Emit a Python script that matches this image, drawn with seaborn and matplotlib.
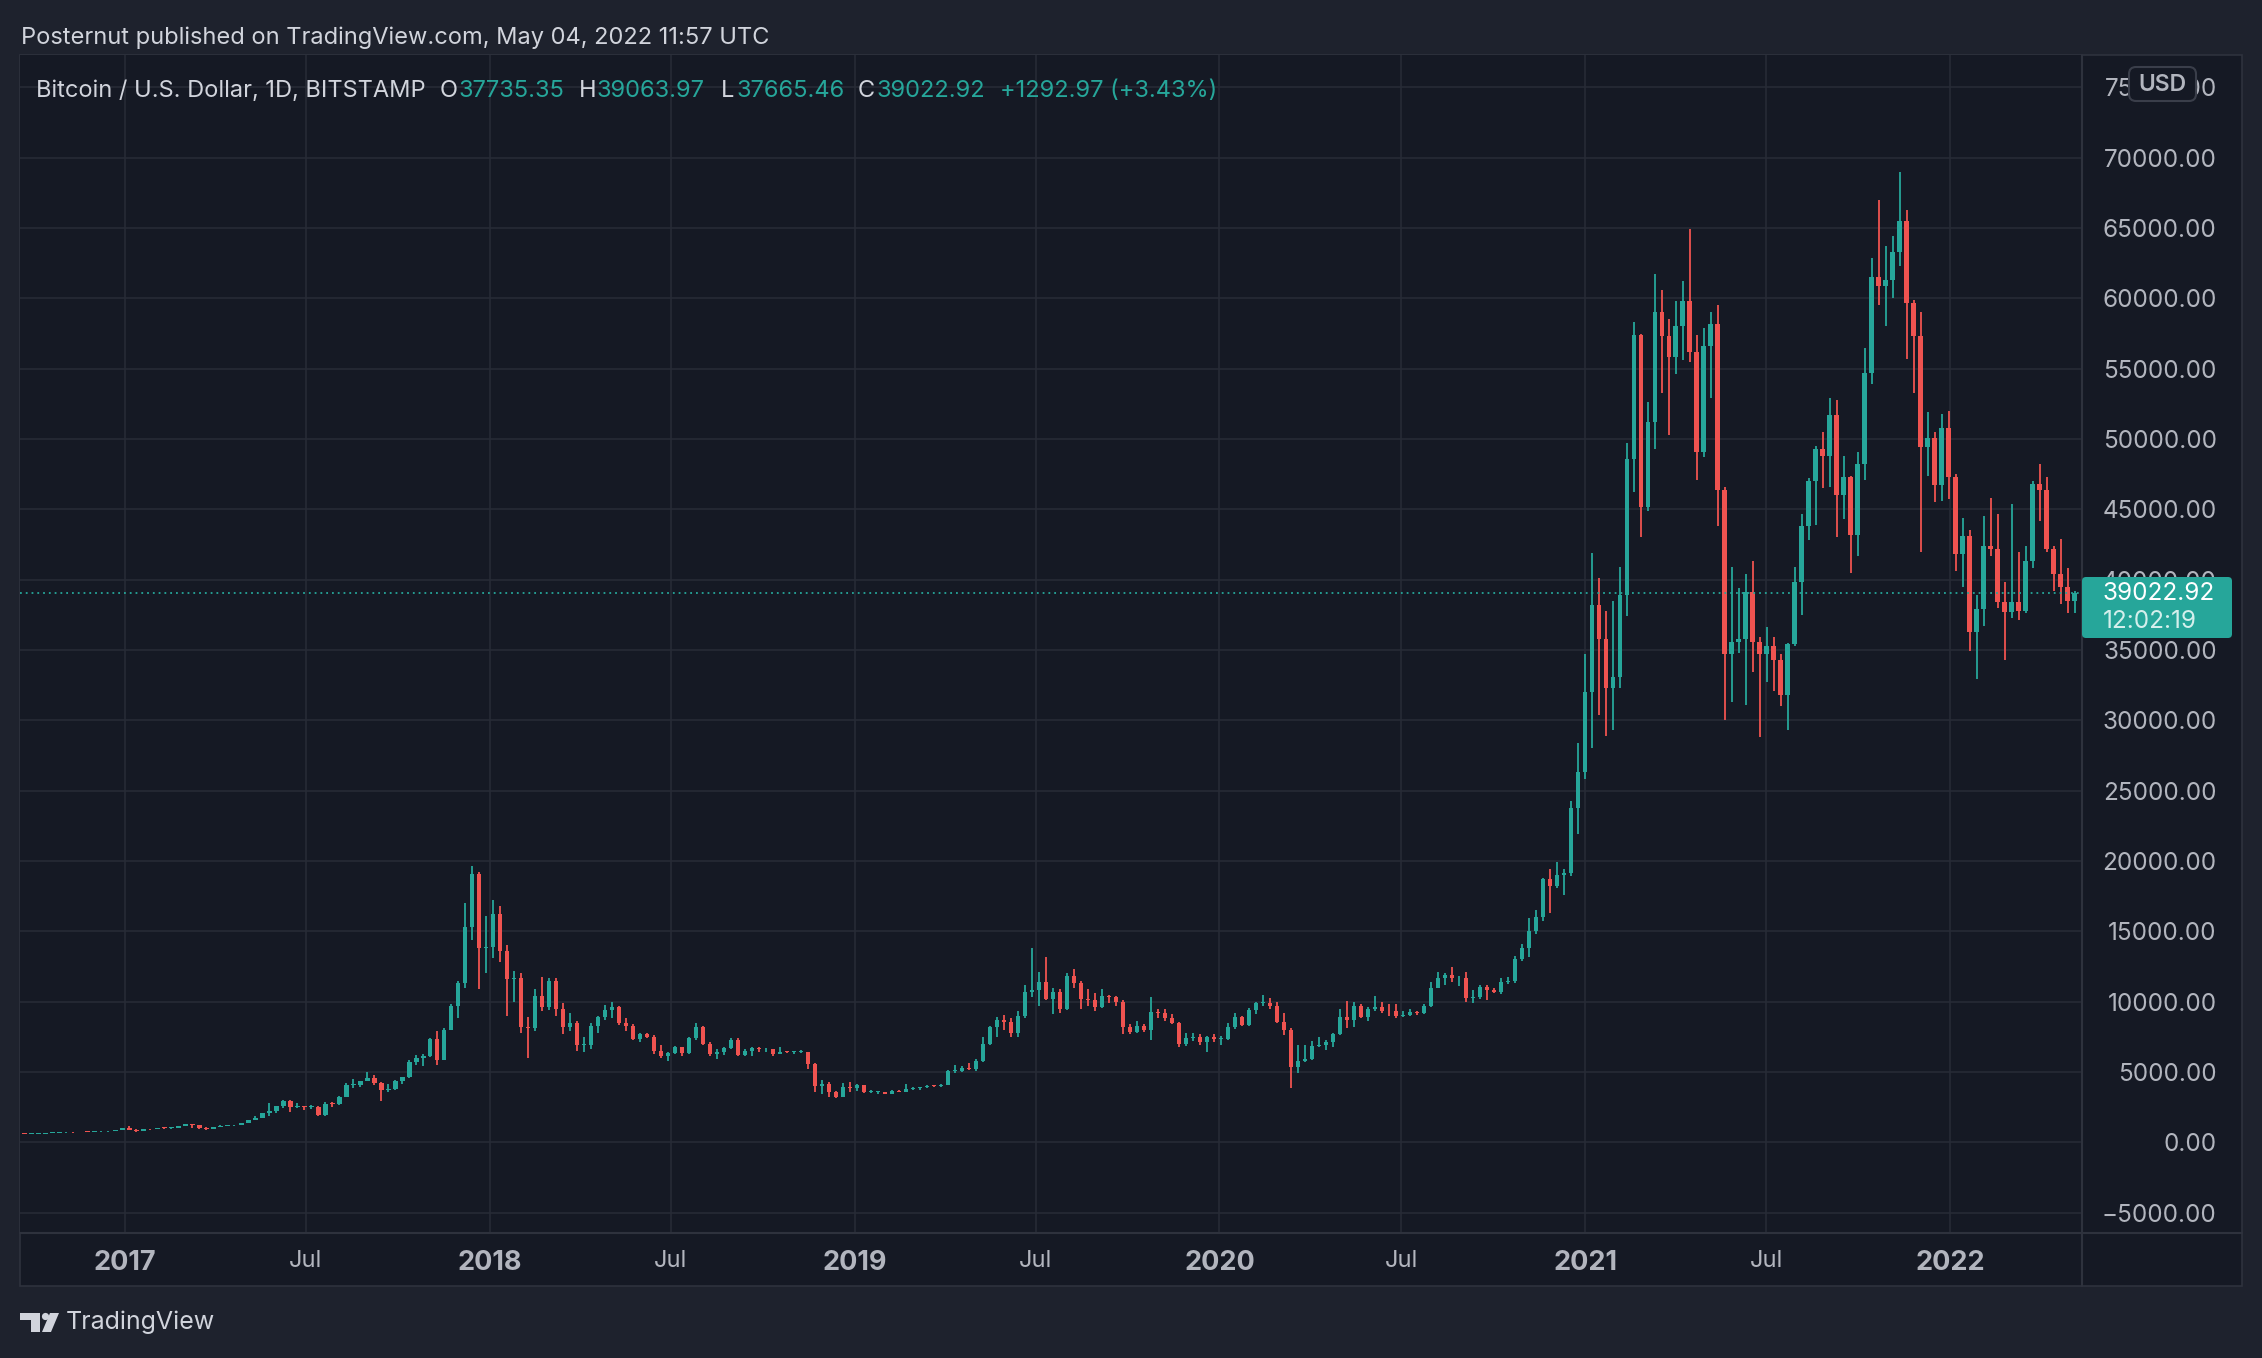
import numpy as np
import pandas as pd
import seaborn as sns
import matplotlib.pyplot as plt
import matplotlib.dates as mdates
from matplotlib.patches import FancyBboxPatch, Rectangle, Polygon, Circle
from matplotlib.lines import Line2D
from matplotlib.transforms import Affine2D

# weekly BTC/USD candles (Bitstamp), weeks start on Monday 2016-09-19
first_open = 608

close_2016 = [603, 611, 619, 638, 653, 698, 703, 702, 748, 730, 767, 769, 790, 895, 998]
high_2016 = [612, 612, 622, 641, 656, 714, 740, 712, 754, 752, 770, 781, 795, 898, 1000]
low_2016 = [592, 596, 606, 616, 633, 650, 680, 680, 697, 724, 726, 756, 760, 790, 889]

close_2017 = [905, 820, 920, 915, 1018, 995, 1050, 1175, 1270, 1235, 1020, 965, 1085,
              1190, 1195, 1250, 1350, 1560, 1750, 2050, 2190, 2550, 2950, 2520, 2560, 2500,
              2510, 1960, 2750, 2740, 3240, 4050, 4080, 4350, 4600, 4200, 3700, 3780, 4390,
              4610, 5690, 6010, 6140, 7360, 5860, 8000, 9720, 11300, 15300, 19100, 13800, 13880]
high_2017 = [1150, 910, 925, 930, 1020, 1060, 1050, 1190, 1290, 1330, 1250, 1080, 1090,
             1200, 1220, 1255, 1350, 1580, 1850, 2100, 2760, 2560, 3000, 2980, 2780, 2600,
             2650, 2550, 2860, 2850, 3300, 4200, 4480, 4380, 4980, 4750, 4300, 4150, 4400,
             4620, 5840, 6200, 6300, 7400, 7900, 8100, 9800, 11500, 17000, 19660, 19200, 16100]
low_2017 = [885, 750, 800, 880, 910, 940, 970, 1050, 1160, 1000, 940, 880, 930,
            1080, 1150, 1160, 1230, 1340, 1550, 1710, 1900, 2100, 2440, 2150, 2430, 2330,
            2380, 1840, 1900, 2480, 2670, 3200, 3890, 3900, 4340, 4100, 2950, 3550, 3750,
            4150, 4560, 5500, 5450, 6030, 5500, 5850, 8000, 8800, 11000, 14400, 10900, 12000]

close_2018 = [16200, 13600, 11600, 11700, 8200, 8100, 10400, 9600, 11500, 9500, 8200, 8500,
              6900, 6900, 8300, 8900, 9400, 9650, 8500, 8250, 7350, 7700, 7500, 6500, 6150,
              6350, 6750, 6350, 7400, 8200, 7000, 6300, 6400, 6700, 7300, 6200, 6500, 6700,
              6600, 6600, 6300, 6450, 6400, 6400, 6400, 5600, 4000, 4150, 3600, 3250, 3950, 3850]
high_2018 = [17250, 16800, 14000, 12200, 12000, 8900, 10900, 11780, 11700, 11700, 9900, 9200,
             8600, 7500, 8450, 9000, 9750, 9950, 9700, 8850, 8400, 7750, 7750, 7650, 6900,
             6400, 6850, 6800, 7500, 8500, 8250, 7150, 6600, 6800, 7400, 7400, 6600, 6800,
             6750, 6700, 6650, 6750, 6500, 6450, 6550, 6450, 5650, 4400, 4250, 3650, 4200, 4250]
low_2018 = [13100, 12800, 9000, 10000, 7800, 6000, 7900, 9300, 9400, 9000, 7700, 7900,
            6500, 6450, 6600, 7800, 8700, 8800, 8350, 7900, 7250, 7100, 7400, 6300, 6000,
            5800, 6250, 6100, 6300, 7300, 6900, 6100, 5900, 6200, 6650, 6150, 6100, 6150,
            6400, 6450, 6150, 6250, 6350, 6300, 6350, 5200, 3600, 3450, 3250, 3150, 3200, 3550]

close_2019 = [4050, 3550, 3550, 3550, 3450, 3650, 3600, 3800, 3850, 3900, 4000, 3980, 4100,
              5050, 5100, 5300, 5200, 5800, 7000, 8200, 8700, 8550, 7800, 8950, 10700, 10800,
              11400, 10200, 10700, 9500, 11800, 11300, 10200, 10100, 9600, 10400, 10300, 10000,
              8200, 7850, 8300, 7950, 9250, 9200, 8800, 8500, 7000, 7400, 7500, 7100, 7500, 7350]
high_2019 = [4150, 4100, 3750, 3650, 3600, 3700, 3700, 4150, 3920, 3950, 4050, 4100, 4150,
             5150, 5470, 5450, 5650, 5900, 7500, 8300, 8900, 9050, 8850, 9300, 11200, 13800,
             12100, 13200, 11000, 10900, 12000, 12300, 11500, 10900, 10600, 10900, 10500, 10400,
             10100, 8400, 8650, 8400, 10350, 9500, 9450, 9100, 8550, 7800, 7800, 7700, 7550, 7700]
low_2019 = [3650, 3500, 3500, 3450, 3400, 3400, 3550, 3550, 3700, 3700, 3850, 3920, 3900,
            4050, 4900, 5000, 5150, 5050, 5700, 6900, 7450, 8000, 7450, 7500, 8850, 10300,
            9700, 10100, 9100, 9200, 9400, 11000, 9500, 9700, 9300, 9550, 9900, 9700,
            7700, 7700, 7750, 7850, 7300, 8850, 8600, 8400, 6800, 6850, 7200, 6900, 6450, 7100]

close_2020 = [7350, 8200, 8900, 8350, 9400, 9900, 9900, 9700, 8550, 8000, 5350, 5800, 5900,
              6850, 6900, 7100, 7700, 8900, 8700, 9700, 8900, 9450, 9650, 9350, 9300, 9000,
              9050, 9250, 9200, 9700, 11000, 11700, 11900, 11650, 11700, 10250, 10300, 11050,
              10800, 10650, 11400, 11500, 13050, 13800, 15000, 16000, 18700, 18200, 19000,
              19150, 23800, 26300, 32000]
high_2020 = [7550, 8450, 9200, 8950, 9550, 9950, 10500, 10250, 9950, 9200, 8150, 6950, 6950,
             7200, 7450, 7300, 7750, 9450, 10050, 9950, 9850, 9600, 10400, 10000, 9800, 9800,
             9300, 9450, 9350, 9800, 11400, 12100, 12050, 12450, 11800, 12100, 10800, 11200,
             11150, 10950, 11700, 11750, 13250, 14100, 15950, 16500, 18800, 19450, 19900,
             19400, 24250, 28400, 34700]
low_2020 = [6900, 7300, 8050, 8250, 8250, 9100, 9700, 9450, 8500, 7650, 3850, 4950, 5700,
            5850, 6750, 6550, 6800, 7600, 8100, 8200, 8800, 8650, 9300, 9200, 8950, 8850,
            8900, 9000, 9050, 9150, 9600, 10950, 11150, 11400, 11100, 10000, 9900, 10200,
            10150, 10600, 10550, 11250, 11350, 12900, 13200, 14800, 15700, 16300, 18100,
            17600, 18900, 21900, 25800]

close_2021 = [38200, 35800, 32300, 33100, 38900, 48600, 57400, 45200, 51200, 59000, 57300,
              55800, 58000, 59800, 56200, 49100, 56600, 58200, 46400, 34700, 35600, 35800,
              39100, 35600, 34700, 35300, 34300, 31800, 35400, 39800, 43800, 47000, 49300,
              48800, 51700, 46000, 47300, 43200, 48200, 54700, 61500, 60900, 61300, 63300,
              65500, 59700, 57300, 49400, 50100, 46700, 50800, 47300]
high_2021 = [41900, 40100, 37800, 38500, 40900, 49700, 58300, 57500, 52600, 61700, 60600,
             58500, 59800, 61200, 64900, 57400, 57900, 59000, 59500, 46600, 40900, 39400,
             40400, 41300, 35900, 36600, 35900, 34700, 35500, 40900, 44700, 47200, 49500,
             50500, 52900, 52800, 48800, 47400, 49100, 56500, 62900, 67000, 63700, 64400,
             69000, 66300, 59900, 59000, 51900, 50500, 51800, 52000]
low_2021 = [28000, 30400, 28850, 29300, 32300, 37400, 46200, 43000, 44900, 49300, 53300,
            50300, 54600, 55600, 55500, 47100, 48700, 52900, 43800, 30000, 31300, 34800,
            31100, 33400, 28800, 32700, 32100, 31000, 29300, 35300, 37500, 42800, 43900,
            46500, 46600, 43000, 44300, 40500, 41700, 47100, 53900, 59500, 58000, 60000,
            62300, 55700, 53300, 42000, 47400, 45500, 45600, 45700]

close_2022 = [41800, 43100, 36300, 37900, 42400, 42200, 38400, 37700, 38400, 37800, 41300,
              46800, 46400, 42200, 40400, 39500, 38470, 39023]
high_2022 = [47500, 44400, 43500, 38900, 44500, 45800, 44700, 39800, 45400, 42000, 42400,
             47000, 48200, 47300, 42400, 42900, 40800, 39170]
low_2022 = [40600, 39500, 34900, 32950, 36700, 41700, 38000, 34300, 37300, 37100, 37600,
            40800, 44200, 42000, 39200, 38300, 37600, 37600]

last_price = 39022.92
year_ticks = ["2017", "Jul", "2018", "Jul", "2019", "Jul", "2020", "Jul", "2021", "Jul", "2022"]
tick_dates = ["2017-01-01", "2017-07-01", "2018-01-01", "2018-07-01", "2019-01-01", "2019-07-01",
              "2020-01-01", "2020-07-01", "2021-01-01", "2021-07-01", "2022-01-01"]
price_ticks = np.arange(-5000, 75001, 5000)

close = np.array(close_2016 + close_2017 + close_2018 + close_2019 + close_2020 + close_2021 + close_2022, float)
high = np.array(high_2016 + high_2017 + high_2018 + high_2019 + high_2020 + high_2021 + high_2022, float)
low = np.array(low_2016 + low_2017 + low_2018 + low_2019 + low_2020 + low_2021 + low_2022, float)
opn = np.concatenate([[first_open], close[:-1]])
weeks = pd.date_range("2016-09-19", periods=len(close), freq="7D")
df = pd.DataFrame({"week": weeks, "open": opn, "high": high, "low": low, "close": close})

OUTER = "#1e222d"
PLOT_BG = "#151924"
GRID = "#272b36"
BORDER = "#2e323d"
TEXT = "#b2b5be"
TITLE = "#d1d4dc"
UP = "#26a69a"
DOWN = "#ef5350"

sns.set_theme(style="dark", rc={"axes.facecolor": PLOT_BG, "figure.facecolor": OUTER})
plt.rcParams["font.family"] = ["Inter", "DejaVu Sans"]

W, H = 2262, 1358
fig = plt.figure(figsize=(W / 100, H / 100), dpi=100)
fig.patch.set_facecolor(OUTER)
px = Affine2D().scale(1 / W, -1 / H).translate(0, 1) + fig.transFigure

# chart frame
fig.add_artist(Rectangle((20, 55), 2222, 1231, transform=px, facecolor=PLOT_BG,
                         edgecolor=BORDER, lw=1.2, zorder=-5))

ax = fig.add_axes([20 / W, 1 - 1233 / H, 2062 / W, 1178 / H])
ax.set_facecolor(PLOT_BG)
for s in ax.spines.values():
    s.set_visible(False)

x = mdates.date2num(df["week"]) + 3.5
colors = np.where(df["close"] >= df["open"], UP, DOWN)
ax.vlines(x, df["low"], df["high"], colors=colors, lw=1.3, zorder=3)
ax.bar(x, (df["close"] - df["open"]).abs().clip(lower=60), bottom=df[["open", "close"]].min(axis=1),
       width=4.4, color=colors, zorder=3, linewidth=0)

ax.axhline(last_price, color=UP, ls=(0, (1, 2.2)), lw=1.3, zorder=4)

ax.set_xlim(mdates.date2num(pd.Timestamp("2016-09-18")), mdates.date2num(pd.Timestamp("2022-05-13")))
ax.set_ylim(-6450, 77300)

ax.set_xticks(mdates.date2num(pd.to_datetime(tick_dates)))
ax.set_xticklabels(year_ticks)
ax.set_yticks(price_ticks)
ax.set_yticklabels([f"{v:.2f}".replace("-", "\u2212") for v in price_ticks])
ax.grid(True, color=GRID, lw=1.2)
ax.set_axisbelow(True)
ax.tick_params(axis="x", length=0, pad=12, labelsize=17, labelcolor=TEXT)
ax.tick_params(axis="y", length=0, pad=97, labelsize=17.5, labelcolor=TEXT,
               labelright=True, labelleft=False)
for t in ax.get_yticklabels():
    t.set_ha("right")
for t in ax.get_xticklabels():
    if t.get_text() != "Jul":
        t.set_fontweight("bold")
        t.set_fontsize(19.5)

# separators
fig.add_artist(Line2D([20, 2242], [1233, 1233], transform=px, color=BORDER, lw=1.5, zorder=6))
fig.add_artist(Line2D([2082, 2082], [55, 1286], transform=px, color=BORDER, lw=1.5, zorder=6))

# USD badge
fig.add_artist(FancyBboxPatch((2129, 67), 67, 34, boxstyle="round,pad=0,rounding_size=7",
                              transform=px, facecolor=PLOT_BG, edgecolor="#3a3e4a", lw=1.5, zorder=8))
fig.text(2162.5, 85, "USD", transform=px, ha="center", va="center", fontsize=16.5,
         color=TEXT, fontweight="semibold", zorder=9)

# last price badge
fig.add_artist(FancyBboxPatch((2082, 577), 150, 61, boxstyle="round,pad=0,rounding_size=4",
                              transform=px, facecolor=UP, edgecolor="none", zorder=8))
fig.text(2103, 593, f"{last_price:.2f}", transform=px, ha="left", va="center",
         fontsize=17.5, color="white", zorder=9)
fig.text(2103, 622, "12:02:19", transform=px, ha="left", va="center",
         fontsize=17.5, color="#d4efec", zorder=9)

# header texts
fig.text(21, 38, "Posternut published on TradingView.com, May 04, 2022 11:57 UTC",
         transform=px, ha="left", va="center", fontsize=17, color=TITLE)
legend_parts = [(36, "Bitcoin / U.S. Dollar, 1D, BITSTAMP", TITLE), (440, "O", TITLE),
                (459, "37735.35", UP), (579, "H", TITLE), (597, "39063.97", UP),
                (721, "L", TITLE), (736, "37665.46", UP), (858, "C", TITLE),
                (876, "39022.92", UP), (1000, "+1292.97 (+3.43%)", UP)]
for lx, txt, c in legend_parts:
    fig.text(lx, 91, txt, transform=px, ha="left", va="center", fontsize=17, color=c)

# footer logo
logo_c = "#d1d4dc"
fig.add_artist(Polygon([(20, 1313), (40, 1313), (40, 1332), (31, 1332), (31, 1320), (20, 1320)],
                       closed=True, transform=px, facecolor=logo_c, edgecolor="none"))
fig.add_artist(Circle((45.5, 1316.5), 3.6, transform=px, facecolor=logo_c, edgecolor="none"))
fig.add_artist(Polygon([(50, 1313), (59, 1313), (51, 1332), (42, 1332)],
                       closed=True, transform=px, facecolor=logo_c, edgecolor="none"))
fig.text(66, 1322, "TradingView", transform=px, ha="left", va="center", fontsize=18, color=logo_c)

fig.savefig("out.png", dpi=100, facecolor=OUTER)
